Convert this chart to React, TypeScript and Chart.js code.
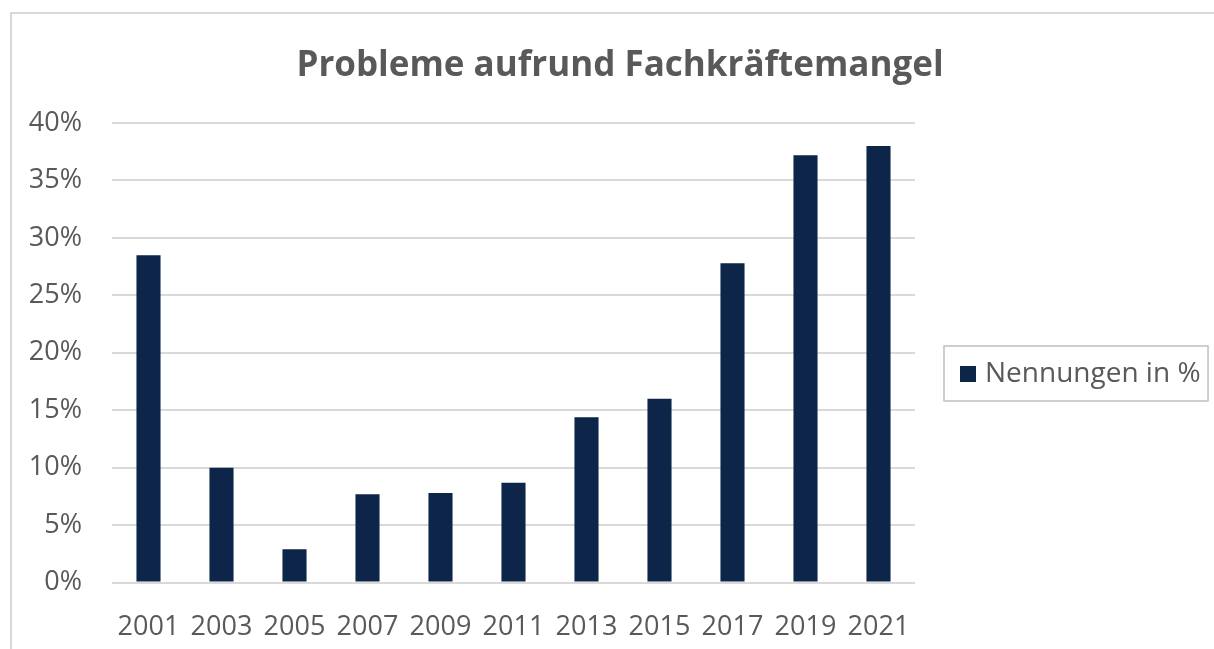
import React, { useEffect, useRef } from "react";
import { Chart, registerables } from "chart.js";

Chart.register(...registerables);

const title = "Probleme aufrund Fachkräftemangel";
const seriesLabel = "Nennungen in %";
const years = ["2001", "2003", "2005", "2007", "2009", "2011", "2013", "2015", "2017", "2019", "2021"];
const values = [28.5, 10.0, 2.9, 7.7, 7.8, 8.7, 14.4, 16.0, 27.8, 37.2, 38.0];

const TEXT = "#595959";
const GRID = "#d9d9d9";
const BAR = "#0c2548";
const FONT = "'Open Sans', 'DejaVu Sans', sans-serif";

const framePlugin = {
  id: "frame",
  beforeDraw(chart: any) {
    const ctx = chart.ctx;
    ctx.save();
    ctx.strokeStyle = GRID;
    ctx.lineWidth = 2;
    ctx.beginPath();
    ctx.moveTo(11, chart.height);
    ctx.lineTo(11, 13);
    ctx.lineTo(chart.width, 13);
    ctx.stroke();
    ctx.restore();
  },
};

// legend drawn in the reserved area right of the plot (Excel-style framed legend)
const legendPlugin = {
  id: "boxedLegend",
  afterDraw(chart: any) {
    const ds = chart.data.datasets[0];
    const ca = chart.chartArea;
    const ctx = chart.ctx;
    const left = ca.right + 29;
    const top = ca.top + 223;
    const w = 264;
    const h = 55;
    ctx.save();
    ctx.strokeStyle = "#bfbfbf";
    ctx.lineWidth = 1.5;
    ctx.strokeRect(left, top, w, h);
    ctx.fillStyle = ds.backgroundColor;
    ctx.fillRect(left + 16, top + 20, 16, 16);
    ctx.fillStyle = TEXT;
    ctx.font = `28px ${FONT}`;
    ctx.textBaseline = "middle";
    ctx.textAlign = "left";
    ctx.fillText(ds.label, left + 41, top + h / 2 + 1);
    ctx.restore();
  },
};

export default function App() {
  const ref = useRef<HTMLCanvasElement | null>(null);
  useEffect(() => {
    document.body.style.margin = "0";
    if (!ref.current) return;
    const chart = new Chart(ref.current, {
      type: "bar",
      data: {
        labels: years,
        datasets: [
          {
            label: seriesLabel,
            data: values,
            backgroundColor: BAR,
            borderWidth: 0,
            barPercentage: 0.33,
            categoryPercentage: 1,
          },
        ],
      },
      options: {
        responsive: false,
        animation: false,
        layout: { padding: { left: 26, right: 0, top: 45, bottom: -16 } },
        plugins: {
          title: {
            display: true,
            text: title,
            color: TEXT,
            font: { family: FONT, size: 35, weight: "bold" },
            padding: { top: 0, bottom: 36 },
          },
          legend: { display: false },
          tooltip: { enabled: false },
        },
        scales: {
          x: {
            grid: { display: false },
            border: { display: false },
            ticks: { color: TEXT, font: { family: FONT, size: 27 }, padding: 21, maxRotation: 0, autoSkip: false },
          },
          y: {
            min: 0,
            max: 40,
            ticks: {
              stepSize: 5,
              color: TEXT,
              font: { family: FONT, size: 27 },
              padding: 30,
              callback: (v: any) => v + "%",
            },
            grid: { color: GRID, lineWidth: 2, drawTicks: false },
            border: { display: false },
            afterFit: (scale: any) => {
              scale.width = 86;
            },
          },
          gap: {
            type: "linear",
            position: "right",
            display: true,
            grid: { display: false },
            border: { display: false },
            ticks: { display: false },
            afterFit: (scale: any) => {
              scale.width = 299;
            },
          },
        },
      },
      plugins: [framePlugin, legendPlugin],
    });
    return () => chart.destroy();
  }, []);
  return (
    <div style={{ position: "absolute", left: 0, top: 0, width: 1214, height: 649, background: "#fff" }}>
      <canvas ref={ref} width={1214} height={649} />
    </div>
  );
}
